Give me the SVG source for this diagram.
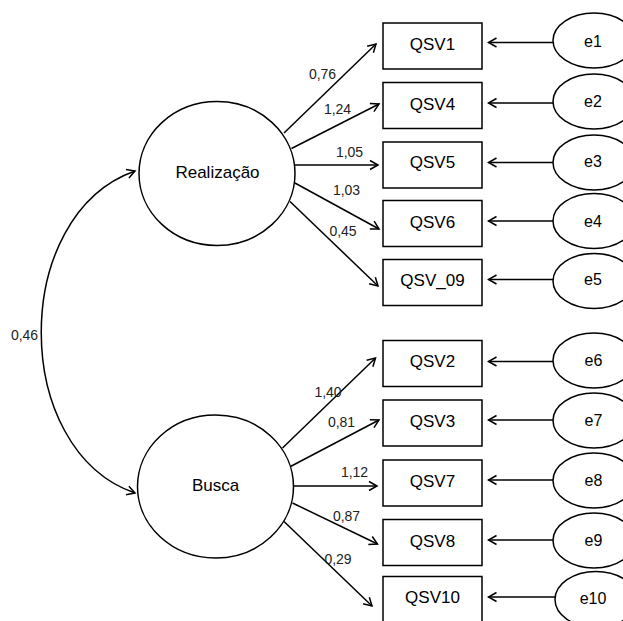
<svg xmlns="http://www.w3.org/2000/svg" width="623" height="621" viewBox="0 0 623 621">
<style>
  .bg{fill:#fff}
  .shape{fill:#fff;stroke:#000;stroke-width:1.5}
  .conn{fill:none;stroke:#000;stroke-width:1.5}
  .lbl{font-family:"Liberation Sans",Arial,sans-serif;font-size:14px;fill:#222;text-anchor:middle}
  .node{font-family:"Liberation Sans",Arial,sans-serif;font-size:17px;fill:#000;text-anchor:middle}
  .err{font-family:"Liberation Sans",Arial,sans-serif;font-size:16px;fill:#000;text-anchor:middle}
</style>
<defs>
  <marker id="arr" markerUnits="userSpaceOnUse" markerWidth="12" markerHeight="12" viewBox="-10 -6 12 12" refX="0" refY="0" orient="auto-start-reverse">
    <path d="M-8,-4.5 L0,0 L-8,4.5" fill="none" stroke="#000" stroke-width="1.5"/>
  </marker>
</defs>
<rect class="bg" x="0" y="0" width="623" height="621"/>

<g id="connectors">
  <path class="conn" d="M135,171 C10,215 10,450 135,493" marker-start="url(#arr)" marker-end="url(#arr)"/>
  <line class="conn" x1="284" y1="133" x2="376" y2="44" marker-end="url(#arr)"/>
  <line class="conn" x1="291.5" y1="148.5" x2="379" y2="104" marker-end="url(#arr)"/>
  <line class="conn" x1="295" y1="165" x2="378" y2="165" marker-end="url(#arr)"/>
  <line class="conn" x1="294" y1="182.5" x2="379" y2="229" marker-end="url(#arr)"/>
  <line class="conn" x1="290" y1="201.5" x2="378" y2="286" marker-end="url(#arr)"/>
  <line class="conn" x1="282.5" y1="448" x2="375.5" y2="358" marker-end="url(#arr)"/>
  <line class="conn" x1="290.5" y1="466.5" x2="379" y2="420" marker-end="url(#arr)"/>
  <line class="conn" x1="293" y1="486" x2="377" y2="486" marker-end="url(#arr)"/>
  <line class="conn" x1="292.5" y1="503" x2="377.5" y2="544" marker-end="url(#arr)"/>
  <line class="conn" x1="284" y1="521.5" x2="372" y2="606" marker-end="url(#arr)"/>
  <line class="conn" x1="553" y1="42.5" x2="488.5" y2="42.5" marker-end="url(#arr)"/>
  <line class="conn" x1="553" y1="103" x2="488.5" y2="103" marker-end="url(#arr)"/>
  <line class="conn" x1="553" y1="162.5" x2="488.5" y2="162.5" marker-end="url(#arr)"/>
  <line class="conn" x1="553" y1="221" x2="488.5" y2="221" marker-end="url(#arr)"/>
  <line class="conn" x1="553" y1="279.5" x2="488.5" y2="279.5" marker-end="url(#arr)"/>
  <line class="conn" x1="553" y1="361.5" x2="488.5" y2="361.5" marker-end="url(#arr)"/>
  <line class="conn" x1="553" y1="420" x2="488.5" y2="420" marker-end="url(#arr)"/>
  <line class="conn" x1="553" y1="480" x2="488.5" y2="480" marker-end="url(#arr)"/>
  <line class="conn" x1="553" y1="540" x2="488.5" y2="540" marker-end="url(#arr)"/>
  <line class="conn" x1="555" y1="597" x2="488.5" y2="597" marker-end="url(#arr)"/>
  <text class="lbl" x="24.5" y="340">0,46</text>
  <text class="lbl" x="322.5" y="79">0,76</text>
  <text class="lbl" x="337.5" y="114">1,24</text>
  <text class="lbl" x="349.5" y="157">1,05</text>
  <text class="lbl" x="346.5" y="195">1,03</text>
  <text class="lbl" x="343" y="236">0,45</text>
  <text class="lbl" x="328" y="396.5">1,40</text>
  <text class="lbl" x="341.5" y="426.5">0,81</text>
  <text class="lbl" x="354.5" y="477">1,12</text>
  <text class="lbl" x="346.5" y="520.5">0,87</text>
  <text class="lbl" x="338" y="564">0,29</text>
</g>

<g id="Realizacao"><ellipse class="shape" cx="217" cy="173.5" rx="78" ry="72"/><text class="node" x="217.5" y="177.5">Realização</text></g>
<g id="Busca"><ellipse class="shape" cx="215.5" cy="486.5" rx="78" ry="71.5"/><text class="node" x="215.5" y="490.5">Busca</text></g>

<g id="QSV1"><rect class="shape" x="383" y="23" width="99" height="46"/><text class="node" x="432.5" y="50">QSV1</text></g>
<g id="QSV4"><rect class="shape" x="383" y="82.5" width="99" height="46"/><text class="node" x="432.5" y="110">QSV4</text></g>
<g id="QSV5"><rect class="shape" x="383" y="142" width="99" height="46"/><text class="node" x="432.5" y="168">QSV5</text></g>
<g id="QSV6"><rect class="shape" x="383" y="200.5" width="99" height="46"/><text class="node" x="432.5" y="227.5">QSV6</text></g>
<g id="QSV_09"><rect class="shape" x="383" y="259.5" width="99" height="46"/><text class="node" x="432.5" y="286">QSV_09</text></g>
<g id="QSV2"><rect class="shape" x="383" y="340.5" width="99" height="46"/><text class="node" x="432.5" y="367">QSV2</text></g>
<g id="QSV3"><rect class="shape" x="383" y="400" width="99" height="46"/><text class="node" x="432.5" y="426.5">QSV3</text></g>
<g id="QSV7"><rect class="shape" x="383" y="460" width="99" height="46"/><text class="node" x="432.5" y="486.5">QSV7</text></g>
<g id="QSV8"><rect class="shape" x="383" y="519.5" width="99" height="46"/><text class="node" x="432.5" y="546.5">QSV8</text></g>
<g id="QSV10"><rect class="shape" x="383" y="576.5" width="99" height="46"/><text class="node" x="432.5" y="602.5">QSV10</text></g>

<g id="e1"><ellipse class="shape" cx="594" cy="40.5" rx="41" ry="27.5"/><text class="err" x="593" y="46.5">e1</text></g>
<g id="e2"><ellipse class="shape" cx="594" cy="101.5" rx="41" ry="27.5"/><text class="err" x="593" y="107">e2</text></g>
<g id="e3"><ellipse class="shape" cx="594" cy="162.5" rx="41" ry="27.5"/><text class="err" x="593" y="167">e3</text></g>
<g id="e4"><ellipse class="shape" cx="594" cy="221" rx="41" ry="27.5"/><text class="err" x="593" y="226.5">e4</text></g>
<g id="e5"><ellipse class="shape" cx="594" cy="281" rx="41" ry="27.5"/><text class="err" x="593" y="285">e5</text></g>
<g id="e6"><ellipse class="shape" cx="594" cy="360.5" rx="41" ry="27.5"/><text class="err" x="593.5" y="366">e6</text></g>
<g id="e7"><ellipse class="shape" cx="594" cy="420.5" rx="41" ry="27.5"/><text class="err" x="593.5" y="426">e7</text></g>
<g id="e8"><ellipse class="shape" cx="594" cy="480.5" rx="41" ry="27.5"/><text class="err" x="593.5" y="486">e8</text></g>
<g id="e9"><ellipse class="shape" cx="594" cy="540.5" rx="41" ry="27.5"/><text class="err" x="593.5" y="546">e9</text></g>
<g id="e10"><ellipse class="shape" cx="596" cy="599.5" rx="41" ry="28"/><text class="err" x="593" y="603.5">e10</text></g>
</svg>
